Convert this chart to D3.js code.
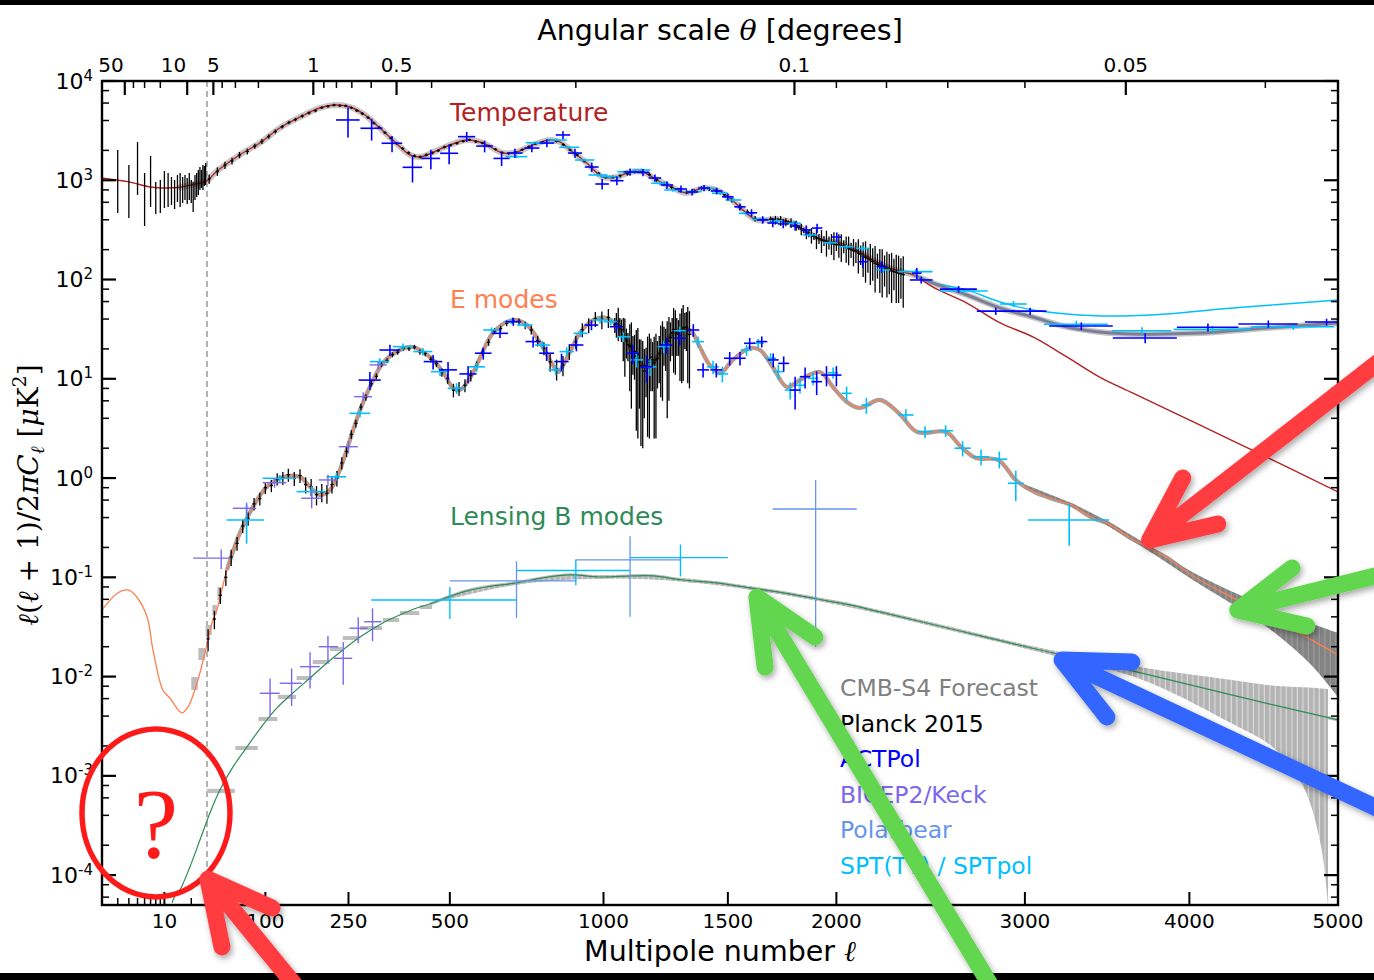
<!DOCTYPE html>
<html>
<head>
<meta charset="utf-8">
<script src="https://cdn.jsdelivr.net/npm/d3@7"></script>
<style>
  html, body { margin: 0; padding: 0; background: #fff; }
  svg { display: block; font-family: "DejaVu Sans", sans-serif; }
</style>
</head>
<body>
<svg id="chart" width="1374" height="980"></svg>
<script>
// ---------------- Theory spectra: [multipole l, D_l in uK^2] ----------------
const ttTheory = [[2,1054],[4,962],[7,856],[10,836],[15,850],[22,917],[30,984],[37.5,1184],[65,1797],[92,2374],[122,3361],[156,4339],[192,5346],[222,5728],[253,5470],[286,4545],[320,3361],[356,2430],[394,1797],[419,1715],[450,1882],[486,2163],[549,2545],[596,2374],[657,1882],[701,1926],[753,2266],[810,2545],[844,2430],[889,1926],[939,1493],[997,1079],[1050,1079],[1100,1212],[1150,1212],[1205,1006],[1270,836],[1327,744],[1394,836],[1452,798],[1508,663],[1566,502],[1628,398],[1719,407],[1794,371],[1860,301],[1935,250],[2018,233],[2100,198],[2183,157],[2265,131],[2336,119],[2392,111],[2492,84],[2675,58],[2860,36.5],[3046,26.4],[3244,16.6],[3440,10.4],[3641,7.2],[4066,3.43],[4398,1.96],[5000,0.724]];
const ttForegroundModel = [[2392,111],[2492,92],[2675,69.8],[2860,51.6],[3046,41.9],[3244,33.3],[3440,29.6],[3641,28.3],[4066,28.9],[4510,32.5],[5000,36.5]];
const sptTTModel = [[2392,111],[2492,93],[2675,78.3],[2860,59.4],[3046,49.3],[3244,45],[3521,42.9],[3855,45],[4281,51.6],[5000,62.2]];
const eeTheory = [[2,0.0469],[3,0.0695],[3.9,0.0746],[4.9,0.0634],[6.4,0.0399],[7.45,0.01855],[9.6,0.00733],[11.5,0.00609],[15.6,0.00431],[18.4,0.00494],[23.2,0.00863],[28.5,0.0173],[35.6,0.0372],[39.5,0.0469],[50.2,0.1186],[65.5,0.28],[82.4,0.512],[102,0.813],[127,1.025],[156,1.025],[174,0.813],[192,0.675],[212,0.759],[232,1.206],[253,2.42],[275,4.85],[297,8.27],[327,14.4],[368,19.5],[401,20.9],[445,16.6],[481,11.7],[509,8.08],[528,7.71],[558,10.2],[587,16.2],[626,28.9],[688,39.1],[734,34.8],[777,23.0],[820,13.8],[837,11.7],[879,18.6],[914,28.9],[961,39.1],[1013,41.0],[1050,34.8],[1088,24.6],[1110,18.2],[1165,13.1],[1217,18.2],[1270,28.9],[1338,31.0],[1380,20.9],[1422,13.8],[1466,11.4],[1522,15.5],[1596,20.4],[1642,19.5],[1700,13.1],[1765,8.27],[1826,9.72],[1920,11.7],[1983,8.27],[2051,5.84],[2116,5.08],[2216,6.12],[2313,4.52],[2409,2.91],[2563,2.91],[2643,2.06],[2725,1.59],[2850,1.52],[2948,0.956],[3053,0.724],[3180,0.601],[3270,0.536],[3398,0.396],[3483,0.353],[3619,0.255],[3731,0.202],[3850,0.16],[4033,0.1008],[4322,0.0578],[4571,0.0363],[4815,0.0234],[5000,0.0165]];
const bbTheory = [[12.2,5.25e-5],[13.1,6.17e-5],[14.9,7.08e-5],[19.3,1.21e-4],[25.0,2.26e-4],[32.7,4.23e-4],[42.6,7.21e-4],[57.1,1.23e-3],[74.4,1.95e-3],[96.5,3.26e-3],[117.6,4.83e-3],[143.7,6.84e-3],[174,9.69e-3],[206,0.01372],[238,0.01854],[275,0.02506],[327,0.0347],[368,0.0418],[411,0.0491],[445,0.0539],[481,0.0605],[549,0.0729],[608,0.08],[701,0.0878],[786,0.0986],[879,0.1057],[986,0.1008],[1110,0.1033],[1189,0.1033],[1311,0.094],[1452,0.0878],[1596,0.0782],[1748,0.0696],[1907,0.0605],[2066,0.0527],[2216,0.0448],[2638,0.0288],[3087,0.01854],[3693,0.01088],[4329,6.24e-3],[5000,3.66e-3]];

// ---------------- CMB-S4 forecast ----------------
// high-l bands: [l, lower, upper]
const eeForecastBand = [[3000,0.80,0.86],[3270,0.515,0.557],[3483,0.335,0.371],[3731,0.19,0.214],[4033,0.092,0.11],[4322,0.049,0.067],[4571,0.027,0.046],[4815,0.013,0.034],[5000,0.0062,0.0275]];
const bbForecastBand = [[481,0.058,0.063],[701,0.0843,0.0913],[986,0.0968,0.1048],[1311,0.0902,0.0978],[1748,0.0668,0.0724],[2216,0.043,0.0466],[2638,0.0276,0.030],[3087,0.0176,0.0195],[3693,0.0094,0.0124],[4240,3.6e-3,9.4e-3],[4560,1.9e-3,8.1e-3],[4760,7.7e-4,7.8e-3],[4880,2.0e-4,7.6e-3],[4930,5.0e-5,7.5e-3]];
// low-l EE bins: [l_min, l_max, lower, upper]
const eeForecastLow = [[20,24,0.00733,0.0099],[24,29,0.0147,0.0194],[29,35,0.0262,0.0331],[35,40,0.0418,0.0527],[40,45,0.0591,0.080]];
// low-l BB bins: [l_min, l_max, D, sigma]
const bbForecastLow = [[30,60,7.05e-4,3.5e-5],[60,90,1.91e-3,9e-5],[90,119,3.74e-3,1.8e-4],[119,150,6.24e-3,3e-4],[150,179,9.69e-3,4.5e-4],[179,212,0.01404,6.5e-4],[212,238,0.019,9e-4],[238,275,0.0245,1.1e-3],[275,327,0.0309,1.4e-3],[327,368,0.0372,1.7e-3],[368,419,0.0437,2e-3],[419,453,0.0502,2.3e-3]];

// ---------------- Planck 2015 ----------------
// low-l TT: [l, lower, upper]
const planckTTLow = [[3,468,2018],[4,417,1426],[5,711,2430],[6,346,1183],[7,538,1756],[8,457,962],[9,468,1007],[10,526,1240],[11,538,1183],[12,564,1079],[13,513,1007],[14,604,1130],[15,538,1183],[16,590,1079],[17,633,1130],[18,577,1054],[19,633,1183],[20,590,1007],[21,479,962],[22,633,1130],[23,678,1183],[24,711,1269],[25,798,1361],[26,836,1269],[27,798,1426],[28,876,1392],[29,896,1493]];
// binned TT: [l, D, sigma]
const planckTT = [[32,1035,110],[40,1228,120],[48,1420,120],[56,1565,120],[65,1797,130],[75,1950,130],[85,2208,130],[95,2458,140],[105,2761,140],[115,3101,150],[126,3464,150],[137,3820,160],[148,4086,160],[160,4440,170],[172,4761,170],[184,5020,180],[196,5395,180],[208,5546,180],[220,5710,180],[232,5645,180],[244,5620,170],[256,5380,170],[268,5035,160],[280,4700,150],[293,4271,140],[306,3760,120],[319,3392,110],[332,3017,100],[346,2661,90],[360,2355,80],[375,2090,70],[390,1890,65],[405,1761,60],[420,1717,60],[436,1805,60],[452,1890,60],[468,1990,65],[485,2160,70],[502,2254,70],[520,2360,75],[538,2474,75],[556,2560,75],[575,2449,75],[594,2380,70],[614,2217,65],[634,2055,60],[654,1904,60],[675,1860,55],[696,1921,55],[718,2032,60],[740,2176,60],[762,2340,65],[785,2418,70],[808,2540,70],[832,2470,70],[856,2284,65],[880,2018,60],[905,1800,55],[930,1563,50],[956,1357,45],[982,1174,40],[1008,1079,40],[1035,1079,40],[1062,1109,40],[1090,1160,45],[1118,1212,45],[1146,1212,45],[1175,1140,45],[1204,1008,40],[1234,926,40],[1264,850,38],[1294,795,36],[1325,760,35],[1356,782,36],[1388,830,38],[1420,818,38],[1452,780,38],[1485,715,36],[1518,632,34],[1552,536,30],[1586,480,28],[1620,410,26],[1655,401,26],[1690,405,26],
[1700,405,15],[1712,398,40],[1724,402,18],[1736,392,45],[1748,388,20],[1760,380,35],[1772,376,15],[1784,372,42],[1796,362,22],[1808,350,40],[1820,335,18],[1832,322,42],[1844,312,20],[1856,300,45],[1868,292,25],[1880,280,50],[1892,272,22],[1904,262,60],[1916,258,30],[1928,250,65],[1940,246,28],[1952,240,70],[1964,236,35],[1976,232,55],[1988,228,72],[2000,224,30],[2012,226,60],[2024,218,68],[2036,216,32],[2048,210,62],[2060,205,66],[2072,200,35],[2084,196,60],[2096,192,45],[2108,185,70],[2120,180,40],[2132,172,66],[2144,168,75],[2156,162,45],[2168,158,70],[2180,152,55],[2192,146,72],[2204,142,40],[2216,138,65],[2228,134,68],[2240,130,45],[2252,128,62],[2264,126,55],[2276,122,64],[2288,120,42],[2300,118,60],[2312,116,58],[2324,114,50],[2336,112,60]];
// binned EE: [l, D, sigma]
const planckEE = [[31,0.024,0.006],[37,0.038,0.008],[43,0.066,0.012],[49,0.10,0.018],[55,0.16,0.03],[62,0.22,0.035],[69,0.33,0.05],[76,0.39,0.06],[84,0.55,0.08],[92,0.62,0.09],[100,0.80,0.11],[109,0.84,0.12],[118,0.98,0.14],[127,1.00,0.15],[136,1.08,0.16],[146,0.99,0.16],[156,1.06,0.17],[166,0.86,0.16],[176,0.82,0.16],[186,0.68,0.15],[196,0.72,0.15],[206,0.70,0.15],[216,0.86,0.16],[226,1.00,0.18],[236,1.42,0.2],[246,1.85,0.22],[256,2.75,0.28],[266,3.55,0.32],[277,5.2,0.4],[288,6.5,0.5],[300,8.9,0.6],[312,10.6,0.7],[324,13.9,0.8],[337,15.2,0.9],[350,17.5,1.0],[363,18.5,1.0],[377,20.3,1.1],[391,20.1,1.1],[405,20.9,1.1],[419,18.6,1.1],[433,18.0,1.1],[448,15.7,1.1],[463,14.2,1.1],[478,11.6,1.1],[494,10.1,1.2],[510,7.7,1.2],[526,8.0,1.3],[543,8.6,1.3],[560,10.8,1.4],[577,13.4,1.5],[595,18.6,1.6],[613,23.3,1.8],[631,30.2,2.0],[650,32.0,2.2],[669,36.2,2.4],[688,38.5,2.6],[708,37.8,2.8],[728,34.6,3.0],[748,31.0,3.0],[769,24.2,3.0],[790,20.3,3.0],[811,14.8,3.0],[833,12.6,3.0],[855,13.8,3.2],[877,18.9,3.4],[900,23.6,3.6],[923,31.2,5],[946,34.8,6],[970,40.2,7],[994,39.5,8],[1018,41.5,9],
[1042,35.0,6],[1048,36,10],[1055,38.0,14],[1061,34,7],[1067,31.5,8],[1074,28,13],[1080,25.5,15],[1086,24,8],[1092,22.0,7],[1099,21.5,14],[1105,21.0,16],[1111,19,8],[1117,18.8,9],[1124,17,14],[1130,17.5,15],[1136,15,10],[1142,13.5,11.4],[1149,13,11],[1155,12.0,8],[1162,13.5,7],[1168,14.6,12],[1175,15.5,13],[1181,16.5,9],[1188,15.5,8],[1194,14.5,12],[1201,15.5,13],[1207,16.0,8],[1214,18,9],[1220,20.5,14],[1227,22,16],[1233,23.5,10],[1240,22,10],[1246,21.0,17],[1253,24,18],[1259,26.0,11],[1266,29,12],[1272,31.5,20],[1279,30,19],[1285,29.0,12],[1292,28,11],[1298,27.5,18],[1305,30,21],[1311,32.5,23],[1318,33,13],[1324,33.0,14],[1330,31,22],[1337,28.0,20]];

// ---------------- Ground-based band powers: [l, D, half bin width, sigma] ----------------
const actpolTT = [[249,4050,25,1350],[301,3340,25,830],[349,2360,25,440],[400,1350,25,400],[448,1660,25,370],[498,1870,25,420],[548,2750,25,320],[601,2210,25,300],[653,1660,25,270],[695,1880,25,200],[750,2110,25,200],[800,2370,25,220],[855,2860,25,250],[897,1880,25,200],[957,1360,25,150],[995,917,25,110],[1050,990,25,100],[1100,1212,25,100],[1150,1200,25,100],[1197,1054,25,90],[1245,896,25,80],[1302,817,25,70],[1348,762,25,60],[1398,836,25,60],[1452,780,25,60],[1500,680,25,55],[1553,540,25,45],[1604,470,25,40],[1654,400,25,35],[1700,371,25,35],[1748,363,25,35],[1803,346,25,35],[1856,316,25,35],[1907,330,25,35],[2002,268,25,30],[2130,151,25,20],[2225,135,25,18],[2407,116,25,15],[2430,99,60,8],[2630,80,100,6],[2835,48,105,4],[3030,48,95,4],[3330,34,190,3],[3720,25.8,200,3],[4120,33,200,3],[4520,35.7,200,3],[4920,37.3,150,3]];
const actpolEE = [[297,9.7,25,2.0],[344,19.5,25,2.5],[454,14.9,25,2.5],[495,12.3,25,2.5],[552,11.2,25,2.2],[597,18.1,25,2.5],[648,28.7,25,3],[690,37.6,25,3.5],[754,23.7,25,3],[799,18.1,25,3],[850,14.9,25,3],[902,21.9,25,3],[956,34.8,25,4],[1048,33.5,25,4],[1110,18.1,25,4],[1164,13.2,25,4],[1243,21.9,25,4],[1297,25.6,25,4],[1353,31,25,4.5],[1394,12.3,25,2],[1450,12.3,25,2],[1508,16.1,25,2.5],[1553,16.1,25,2.5],[1596,22.8,25,3],[1650,23.7,25,3],[1702,15.5,25,2.5],[1750,14.3,25,2.5],[1803,7.7,25,2.8],[1850,10.5,25,2.5],[1905,9.35,25,2.5],[1952,10.9,25,2.5],[2000,10.9,25,2.5]];
const sptTT = [[700,1730,35,60],[765,2390,35,70],[833,2545,35,70],[877,2150,35,60],[932,1600,35,50],[980,1130,35,40],[1024,1086,35,40],[1086,1220,35,40],[1144,1269,35,40],[1217,932,35,35],[1269,798,35,30],[1353,767,35,30],[1415,830,35,30],[1466,739,35,30],[1524,633,35,25],[1582,464,35,20],[1642,404,35,18],[1718,391,35,18],[1795,369,35,16],[1873,281,35,14],[1969,235,35,12],[2050,214,35,10],[2131,206,35,10],[2232,125,35,8],[2400,120,90,7],[2660,76.7,130,5],[2935,56.7,75,4],[3300,35.4,190,3],[3700,30.5,185,2.5],[4150,31.5,250,2.5],[4690,33.5,285,2.5]];
const sptEE = [[74,0.378,24,0.16],[122,0.995,26,0.08],[177,0.73,27,0.1],[225,1.03,20,0.1],[275,4.49,23,0.4],[320,14.9,23,1.2],[376,21.1,25,1.6],[427,18.8,25,1.6],[473,11.8,25,1.2],[519,8.02,25,1.0],[577,13.2,25,1.3],[622,31.0,25,2],[684,37.6,25,2.2],[727,34.8,25,2.2],[785,21.9,25,2],[830,12.3,25,1.5],[868,18.8,25,2],[917,28.7,25,2.5],[987,39.1,25,3],[1027,37.6,25,3],[1075,26.5,25,3],[1125,15.5,25,2.5],[1178,13.2,25,2.5],[1232,21.1,25,3],[1297,30.5,25,3],[1373,23.7,25,3],[1436,13.2,25,2],[1476,11.2,25,2],[1582,19.5,25,2.5],[1634,22.8,25,2.5],[1690,16.1,25,2],[1725,11.8,25,2],[1780,7.7,25,1.5],[1826,8.6,25,1.5],[1888,10.1,25,1.5],[1984,11.5,25,1.5],[2050,7.14,25,1.2],[2148,5.44,25,1.0],[2350,4.32,40,0.6],[2450,2.93,40,0.4],[2560,3.0,40,0.4],[2652,2.0,45,0.35],[2753,1.64,45,0.3],[2855,1.55,45,0.3],[2948,0.886,45,0.3],[3258,0.378,240,0.17]];
const sptBB = [[500,0.0591,200,0.021],[900,0.117,200,0.034],[1300,0.158,200,0.056]];
const polarbearBB = [[700,0.092,200,0.053],[1100,0.15,200,0.11],[1900,0.488,200,0.468]];
// BICEP2/Keck: [l, D, l_min, l_max, sigma]
const bicepEE = [[44,0.156,21,54,0.035],[74,0.496,57,87,0.07],[114,0.898,96,133,0.1],[177,0.626,158,196,0.13],[208,0.957,190,228,0.12],[250,2.07,230,270,0.3],[282,6.6,262,302,0.7],[316,13.8,296,336,1.3]];
const bicepBB = [[107,6.79e-3,92,122,2.8e-3],[141.5,8.57e-3,122,159,3.5e-3],[174,0.01259,156,192,5e-3],[208,0.0200,190,228,5.8e-3],[239,0.01529,220,258,7e-3],[271,0.0307,252,292,9e-3],[303,0.0357,284,324,0.013]];

// ---------------- Axis ticks ----------------
const lMajorTicks = [10, 100, 250, 500, 1000, 1500, 2000, 3000, 4000, 5000];
const lMinorTicks = [3, 4, 5, 6, 7, 8, 9, 20, 30];
const thetaMajorTicks = [50, 10, 5, 1, 0.5, 0.1, 0.05];
const thetaMinorTicks = [40, 30, 20, 4, 3, 2, 0.9, 0.8, 0.7, 0.6, 0.4, 0.3, 0.2, 0.09, 0.08, 0.07, 0.06, 0.04];
const yExponents = [-4, -3, -2, -1, 0, 1, 2, 3, 4];
const legendEntries = [
  { label: "CMB-S4 Forecast", color: "#808080" },
  { label: "Planck 2015", color: "#000000" },
  { label: "ACTPol", color: "#0000ff" },
  { label: "BICEP2/Keck", color: "#7b68ee" },
  { label: "Polarbear", color: "#6495ed" },
  { label: "SPT(TT) / SPTpol", color: "#00bfff" }
];
// Hand-drawn arrows, in data coordinates: barb, tip, barb, tail
const arrows = [
  { color: "#ff3c41", pts: [[44.8,1.89e-5],[30.9,9.1e-5],[110,4.67e-5],[147,7.8e-6]] },
  { color: "#ff3c41", pts: [[3957,1.0],[3748,0.2377],[4184,0.3446],[5381,18.6]] },
  { color: "#62d64f", pts: [[4681,0.124],[4316,0.0469],[4783,0.0324],[5381,0.1132]] },
  { color: "#3366ff", pts: [[3637,0.01403],[3216,0.0147],[3484,3.92e-3],[5381,4.04e-4]] },
  { color: "#62d64f", pts: [[1665,0.0125],[1628,0.0634],[1897,0.0251],[2805,7.8e-6]] }
];
const questionMark = { l: 8.05, D: 4.23e-4 };

// ---------------- Scales ----------------
const W = 1374, H = 980;
const plot = { left: 102, right: 1338, top: 81, bottom: 905 };
const lBreak = 30, xBreak = 207;
const xLow = d3.scaleLog().domain([2, lBreak]).range([plot.left, xBreak]);
const xHigh = d3.scalePow().exponent(0.6).domain([lBreak, 5000]).range([xBreak, plot.right]);
const x = l => (l < lBreak ? xLow(Math.max(l, 1.2)) : xHigh(l));
const y = d3.scaleLog().domain([5e-5, 1e4]).range([plot.bottom, plot.top]);
const floorV = 1e-7;

const svg = d3.select("#chart");
const defs = svg.append("defs");
defs.append("clipPath").attr("id", "plotClip").append("rect")
  .attr("x", plot.left).attr("y", plot.top)
  .attr("width", plot.right - plot.left).attr("height", plot.bottom - plot.top);

const bbPat = defs.append("pattern").attr("id", "bbBars").attr("patternUnits", "userSpaceOnUse")
  .attr("width", 5.5).attr("height", 10);
bbPat.append("rect").attr("width", 5.5).attr("height", 10).attr("fill", "#dadada");
bbPat.append("rect").attr("width", 4.3).attr("height", 10).attr("fill", "#b4b4b4");
const eePat = defs.append("pattern").attr("id", "eeBars").attr("patternUnits", "userSpaceOnUse")
  .attr("width", 5.5).attr("height", 10);
eePat.append("rect").attr("width", 5.5).attr("height", 10).attr("fill", "#9a9a9a");
eePat.append("rect").attr("width", 4.3).attr("height", 10).attr("fill", "#838383");

const shadow = defs.append("filter").attr("id", "arrowShadow")
  .attr("x", "-30%").attr("y", "-30%").attr("width", "160%").attr("height", "160%");
shadow.append("feDropShadow").attr("dx", 2).attr("dy", 3).attr("stdDeviation", 3)
  .attr("flood-color", "#000").attr("flood-opacity", 0.35);

svg.append("rect").attr("width", W).attr("height", H).attr("fill", "#fff");

const lineGen = d3.line().x(d => x(d[0])).y(d => y(d[1])).curve(d3.curveCatmullRom.alpha(0.5));
const bandGen = d3.area().x(d => x(d[0])).y0(d => y(d[1])).y1(d => y(d[2])).curve(d3.curveCatmullRom.alpha(0.5));

const plotG = svg.append("g").attr("clip-path", "url(#plotClip)");

// boundary between low-l and high-l likelihoods
plotG.append("line").attr("x1", x(lBreak)).attr("x2", x(lBreak))
  .attr("y1", plot.top).attr("y2", plot.bottom)
  .attr("stroke", "#666").attr("stroke-width", 1).attr("stroke-dasharray", "6,4");

// ---- forecast layers ----
const ttForecastPath = ttTheory.filter(d => d[0] >= 14 && d[0] <= 2392).concat(ttForegroundModel.slice(1));
plotG.append("path").attr("d", lineGen(ttForecastPath)).attr("fill", "none")
  .attr("stroke", "#c6c6c6").attr("stroke-width", 6).attr("stroke-linecap", "round");
plotG.append("path").attr("d", lineGen(eeTheory.filter(d => d[0] >= 40))).attr("fill", "none")
  .attr("stroke", "#a0a0a0").attr("stroke-width", 4.2);
plotG.append("path").attr("d", lineGen(bbTheory.filter(d => d[0] >= 440))).attr("fill", "none")
  .attr("stroke", "#bdbdbd").attr("stroke-width", 3.4);
plotG.append("path").attr("d", bandGen(bbForecastBand)).attr("fill", "url(#bbBars)");
plotG.append("path").attr("d", bandGen(eeForecastBand)).attr("fill", "url(#eeBars)");
plotG.selectAll("rect.eeLow").data(eeForecastLow).join("rect").attr("class", "eeLow")
  .attr("x", d => x(d[0])).attr("width", d => x(d[1]) - x(d[0]) - 0.6)
  .attr("y", d => y(d[3])).attr("height", d => y(d[2]) - y(d[3]))
  .attr("fill", "#bdbdbd");
plotG.selectAll("rect.bbLow").data(bbForecastLow).join("rect").attr("class", "bbLow")
  .attr("x", d => x(d[0])).attr("width", d => x(d[1]) - x(d[0]) - 0.6)
  .attr("y", d => y(d[2] + d[3])).attr("height", d => y(d[2] - d[3]) - y(d[2] + d[3]))
  .attr("fill", "#bdbdbd");

// ---- theory curves ----
plotG.append("path").attr("d", lineGen(ttTheory)).attr("fill", "none").attr("stroke", "#b22222").attr("stroke-width", 1.4);
plotG.append("path").attr("d", lineGen(sptTTModel)).attr("fill", "none").attr("stroke", "#00bfff").attr("stroke-width", 1.4);
plotG.append("path").attr("d", lineGen(ttForegroundModel)).attr("fill", "none").attr("stroke", "#7c7f95").attr("stroke-width", 3);
plotG.append("path").attr("d", lineGen(eeTheory)).attr("fill", "none").attr("stroke", "#ff7f50").attr("stroke-width", 1.3);
plotG.append("path").attr("d", lineGen(bbTheory)).attr("fill", "none").attr("stroke", "#2e8b57").attr("stroke-width", 1.2);

// ---- data points ----
function drawPlanck(data, cls) {
  const g = plotG.append("g").attr("stroke", "#000").attr("stroke-width", 1.3);
  g.selectAll("line.v" + cls).data(data).join("line").attr("class", "v" + cls)
    .attr("x1", d => x(d[0])).attr("x2", d => x(d[0]))
    .attr("y1", d => y(Math.max(d[1] - d[2], floorV))).attr("y2", d => y(d[1] + d[2]));
  g.selectAll("line.h" + cls).data(data).join("line").attr("class", "h" + cls)
    .attr("x1", d => x(d[0]) - 1.6).attr("x2", d => x(d[0]) + 1.6)
    .attr("y1", d => y(d[1])).attr("y2", d => y(d[1]));
}
plotG.append("g").attr("stroke", "#000").attr("stroke-width", 1.3)
  .selectAll("line").data(planckTTLow).join("line")
  .attr("x1", d => x(d[0])).attr("x2", d => x(d[0]))
  .attr("y1", d => y(d[1])).attr("y2", d => y(d[2]));
drawPlanck(planckTT, "tt");
drawPlanck(planckEE, "ee");

function drawCrosses(data, color, sw, acc, cls) {
  const g = plotG.append("g").attr("stroke", color).attr("stroke-width", sw);
  const pts = data.map(acc);
  g.selectAll("line.h" + cls).data(pts).join("line").attr("class", "h" + cls)
    .attr("x1", p => x(p.l0)).attr("x2", p => x(p.l1))
    .attr("y1", p => y(p.D)).attr("y2", p => y(p.D));
  g.selectAll("line.v" + cls).data(pts).join("line").attr("class", "v" + cls)
    .attr("x1", p => x(p.l)).attr("x2", p => x(p.l))
    .attr("y1", p => y(Math.max(p.D - p.s, floorV))).attr("y2", p => y(p.D + p.s));
}
const symAcc = d => ({ l: d[0], D: d[1], l0: d[0] - d[2], l1: d[0] + d[2], s: d[3] });
const rangeAcc = d => ({ l: d[0], D: d[1], l0: d[2], l1: d[3], s: d[4] });
drawCrosses(sptTT, "#00bfff", 1.6, symAcc, "sptTT");
drawCrosses(sptEE, "#00bfff", 1.6, symAcc, "sptEE");
drawCrosses(sptBB, "#00bfff", 1.4, symAcc, "sptBB");
drawCrosses(actpolTT, "#0000ff", 1.6, symAcc, "actTT");
drawCrosses(actpolEE, "#0000ff", 1.6, symAcc, "actEE");
drawCrosses(bicepEE, "#7b68ee", 1.4, rangeAcc, "bkEE");
drawCrosses(bicepBB, "#7b68ee", 1.4, rangeAcc, "bkBB");
drawCrosses(polarbearBB, "#6495ed", 1.3, symAcc, "pbBB");

// ---------------- Frame and ticks ----------------
const axG = svg.append("g").attr("stroke", "#000");
const majorLen = 13, minorLen = 7;
lMajorTicks.forEach(l => {
  axG.append("line").attr("x1", x(l)).attr("x2", x(l)).attr("y1", plot.bottom).attr("y2", plot.bottom - majorLen).attr("stroke-width", 2);
});
lMinorTicks.forEach(l => {
  axG.append("line").attr("x1", x(l)).attr("x2", x(l)).attr("y1", plot.bottom).attr("y2", plot.bottom - minorLen).attr("stroke-width", 1.5);
});
thetaMajorTicks.forEach(t => {
  const xx = x(180 / t);
  axG.append("line").attr("x1", xx).attr("x2", xx).attr("y1", plot.top).attr("y2", plot.top + majorLen + 1).attr("stroke-width", 2.2);
});
thetaMinorTicks.forEach(t => {
  const xx = x(180 / t);
  axG.append("line").attr("x1", xx).attr("x2", xx).attr("y1", plot.top).attr("y2", plot.top + minorLen).attr("stroke-width", 1.5);
});
yExponents.forEach(k => {
  const yy = y(Math.pow(10, k));
  [[plot.left, 1], [plot.right, -1]].forEach(([x0, dir]) => {
    axG.append("line").attr("x1", x0).attr("x2", x0 + dir * (majorLen + 1)).attr("y1", yy).attr("y2", yy).attr("stroke-width", 2.2);
  });
});
for (let k = -5; k <= 3; k++) {
  [2, 4, 6, 8].forEach(m => {
    const v = m * Math.pow(10, k);
    if (v < 5e-5 || v > 1e4) return;
    const yy = y(v);
    [[plot.left, 1], [plot.right, -1]].forEach(([x0, dir]) => {
      axG.append("line").attr("x1", x0).attr("x2", x0 + dir * minorLen).attr("y1", yy).attr("y2", yy).attr("stroke-width", 1.5);
    });
  });
}
svg.append("rect").attr("x", plot.left).attr("y", plot.top)
  .attr("width", plot.right - plot.left).attr("height", plot.bottom - plot.top)
  .attr("fill", "none").attr("stroke", "#000").attr("stroke-width", 2.4);

// tick labels
const labG = svg.append("g").attr("font-size", 20).attr("fill", "#000");
lMajorTicks.forEach(l => {
  labG.append("text").attr("x", x(l)).attr("y", 928).attr("text-anchor", "middle").text(l);
});
thetaMajorTicks.forEach(t => {
  const xx = x(180 / t);
  const lowSide = t >= 10;
  labG.append("text").attr("x", lowSide ? xx - 1 : xx).attr("y", 72)
    .attr("text-anchor", lowSide ? "end" : "middle").text(t);
});
yExponents.forEach(k => {
  const t = labG.append("text").attr("x", 93).attr("y", y(Math.pow(10, k)) + 7.5).attr("text-anchor", "end");
  t.append("tspan").attr("font-size", 22).text("10");
  t.append("tspan").attr("font-size", 15).attr("dy", -8).text(String(k));
});

// axis titles
const topTitle = svg.append("text").attr("x", 720).attr("y", 40).attr("text-anchor", "middle").attr("font-size", 28.5);
topTitle.append("tspan").text("Angular scale ");
topTitle.append("tspan").attr("font-family", "DejaVu Serif").attr("font-style", "italic").text("\u03b8");
topTitle.append("tspan").text(" [degrees]");
const botTitle = svg.append("text").attr("x", 720).attr("y", 961).attr("text-anchor", "middle").attr("font-size", 28.5);
botTitle.append("tspan").text("Multipole number ");
botTitle.append("tspan").attr("font-family", "DejaVu Serif").attr("font-style", "italic").text("\u2113");

const yTitle = svg.append("text").attr("transform", "translate(38,495) rotate(-90)")
  .attr("text-anchor", "middle").attr("font-family", "DejaVu Serif").attr("font-size", 28);
[
  { t: "\u2113", it: true }, { t: "(" }, { t: "\u2113", it: true }, { t: " + 1)/2" },
  { t: "\u03c0", it: true }, { t: "C", it: true }, { t: "\u2113", it: true, sub: true },
  { t: " [", back: "sub" }, { t: "\u03bc", it: true }, { t: "K" }, { t: "2", sup: true }, { t: "]", back: "sup" }
].forEach(p => {
  const s = yTitle.append("tspan").text(p.t);
  if (p.it) s.attr("font-style", "italic");
  if (p.sub) s.attr("font-size", 19).attr("dy", 6);
  if (p.sup) s.attr("font-size", 19).attr("dy", -12);
  if (p.back === "sub") s.attr("dy", -6);
  if (p.back === "sup") s.attr("dy", 12);
});

// curve labels
svg.append("text").attr("x", 450).attr("y", 121).attr("font-size", 25).attr("fill", "#b22222").text("Temperature");
svg.append("text").attr("x", 450).attr("y", 308).attr("font-size", 25).attr("fill", "#ff7f50").text("E modes");
svg.append("text").attr("x", 450).attr("y", 525).attr("font-size", 25).attr("fill", "#2e8b57").text("Lensing B modes");

// legend
svg.append("g").selectAll("text").data(legendEntries).join("text")
  .attr("x", 840).attr("y", (d, i) => 696 + i * 35.6)
  .attr("font-size", 23.5).attr("fill", d => d.color).text(d => d.label);

// black bands at top and bottom
svg.append("rect").attr("x", 0).attr("y", 0).attr("width", W).attr("height", 5).attr("fill", "#000");
svg.append("rect").attr("x", 0).attr("y", 973).attr("width", W).attr("height", 7).attr("fill", "#000");

// ---------------- Annotations ----------------
const annG = svg.append("g");
const qx = x(questionMark.l), qy = y(questionMark.D);
annG.append("ellipse").attr("cx", qx).attr("cy", qy).attr("rx", 74).attr("ry", 84)
  .attr("fill", "none").attr("stroke", "#ff1a1a").attr("stroke-width", 5.5);
annG.append("text").attr("x", qx).attr("y", qy + 44).attr("text-anchor", "middle")
  .attr("font-family", "Liberation Serif, DejaVu Serif, serif").attr("font-size", 100)
  .attr("fill", "#ff1a1a").text("?");

arrows.forEach(a => {
  const p = a.pts.map(d => [x(d[0]), y(d[1])]);
  const path = d3.path();
  path.moveTo(p[0][0], p[0][1]); path.lineTo(p[1][0], p[1][1]); path.lineTo(p[2][0], p[2][1]);
  path.moveTo(p[1][0], p[1][1]); path.lineTo(p[3][0], p[3][1]);
  annG.append("path").attr("d", path.toString()).attr("fill", "none")
    .attr("stroke", a.color).attr("stroke-width", 17)
    .attr("stroke-linecap", "round").attr("stroke-linejoin", "round")
    .attr("filter", "url(#arrowShadow)");
});
</script>
</body>
</html>
